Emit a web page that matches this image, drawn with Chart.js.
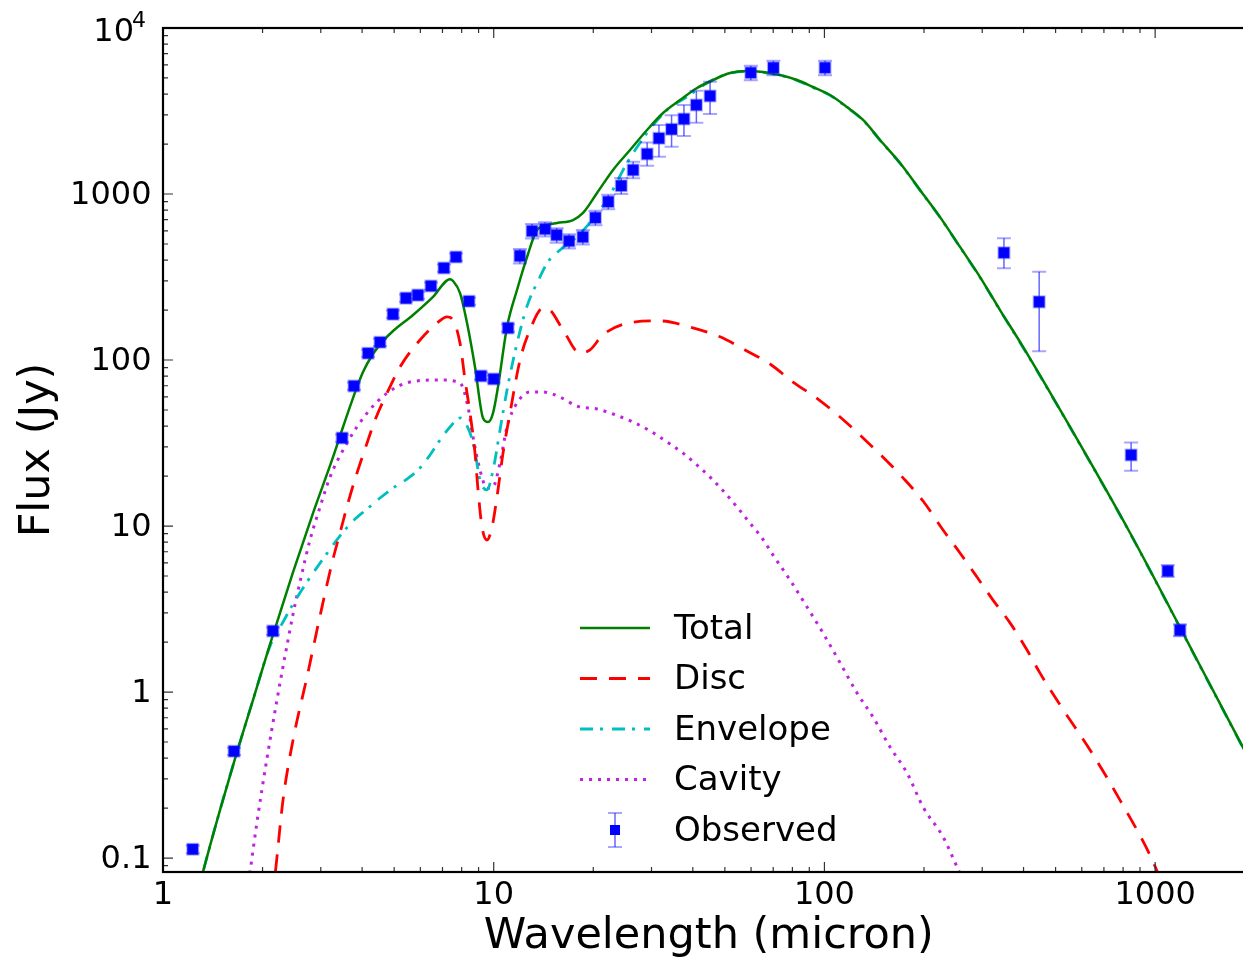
<!DOCTYPE html>
<html>
<head>
<meta charset="utf-8">
<script src="https://cdn.jsdelivr.net/npm/chart.js@4.4.1/dist/chart.umd.min.js"></script>
<style>
html,body{margin:0;padding:0;background:#fff;overflow:hidden;width:1243px;height:958px;}
canvas{display:block;width:1243px;height:958px;}
</style>
</head>
<body>
<canvas id="c" width="1243" height="958"></canvas>
<script>
// ---------------- data ----------------
const xTickLabels = [1, 10, 100, 1000];
const yTickLabels = [0.1, 1, 10, 100, 1000, 10000];

const obsWave = [1.23, 1.64, 2.15, 3.48, 3.78, 4.17, 4.53, 4.96, 5.43, 5.90, 6.46, 7.07, 7.69, 8.42, 9.15, 10.0, 11.05, 12.0, 13.06, 14.3, 15.5, 16.9, 18.6, 20.3, 22.2, 24.3, 26.4, 29.1, 31.6, 34.5, 37.6, 41.0, 45.1, 59.9, 70.1, 100.4, 349, 446, 846, 1092, 1189];
const obsFlux = [0.113, 0.44, 2.33, 33.9, 69.7, 110, 128, 189, 236, 246, 279, 358, 417, 226, 80.2, 76.9, 156, 424, 599, 615, 566, 521, 551, 720, 899, 1122, 1395, 1742, 2165, 2453, 2830, 3435, 3894, 5380, 5770, 5770, 443, 224, 26.8, 5.36, 2.36];
const obsLow  = [0.107, 0.418, 2.21, 32.2, 66.2, 104.5, 121.6, 179.6, 224, 234, 265, 340, 396, 215, 76.2, 73.1, 148, 382, 539, 554, 509, 469, 496, 648, 809, 1000, 1245, 1479, 1679, 1927, 2235, 2689, 3034, 4840, 5190, 5190, 357, 113, 21.5, 4.95, 2.17];
const obsHigh = [0.119, 0.462, 2.45, 35.6, 73.2, 115.5, 134.4, 198.5, 248, 258, 293, 376, 438, 237, 84.2, 80.7, 164, 466, 659, 677, 623, 573, 606, 792, 989, 1250, 1567, 2046, 2606, 2978, 3433, 4190, 4749, 5920, 6350, 6350, 541, 340, 31.9, 5.80, 2.55];

const totalWave = [1.258, 1.321, 1.487, 1.674, 1.871, 2.107, 2.473, 2.842, 3.266, 3.502, 3.754, 4.025, 4.315, 4.627, 4.961, 5.702, 6.555, 7.378, 7.533, 7.910, 8.305, 8.779, 9.282, 9.612, 9.952, 10.30, 10.97, 11.76, 12.61, 13.52, 14.50, 15.54, 17.37, 18.62, 20.53, 22.95, 25.83, 29.08, 32.51, 36.59, 41.19, 46.05, 51.83, 58.33, 65.21, 73.39, 82.62, 92.36, 104.0, 117.0, 130.9, 147.3, 169.3, 194.6, 223.7, 257.0, 295.5, 339.6, 398.6, 553, 840, 1339, 2000];
const totalFlux = [0.0558, 0.0824, 0.1945, 0.4355, 0.895, 1.946, 5.28, 11.97, 26.0, 39.5, 59.0, 84.7, 108.7, 130, 149.5, 186.7, 240, 307, 299, 253, 167, 90.8, 44.7, 42.3, 47.9, 68.8, 158, 264, 417, 607, 650, 669, 697, 769, 1014, 1396, 1841, 2430, 3076, 3681, 4352, 4861, 5355, 5508, 5433, 5212, 4861, 4412, 3948, 3342, 2792, 2115, 1537, 1057, 726, 480, 316, 200, 120, 39.5, 9.08, 1.56, 0.34];

const discWave = [2.143, 2.211, 2.306, 2.473, 2.725, 2.984, 3.243, 3.429, 3.625, 3.861, 4.140, 4.376, 4.758, 5.208, 5.985, 6.741, 7.225, 7.533, 7.910, 8.190, 8.480, 8.779, 8.965, 9.218, 9.544, 9.883, 10.23, 10.67, 11.20, 12.01, 12.87, 14.10, 14.80, 16.20, 18.24, 19.55, 21.41, 26.38, 31.84, 39.23, 48.34, 57.54, 68.46, 80.35, 95.6, 111.5, 129.9, 150.4, 172.9, 198.7, 228.4, 257.0, 289.3, 323.4, 364.1, 409.9, 448.7, 515.8, 635.5, 783.0, 965, 1071];
const discFlux = [0.0558, 0.1014, 0.2234, 0.514, 1.231, 2.87, 5.98, 9.08, 13.76, 20.9, 31.6, 43.5, 63.2, 90.8, 132, 167, 182, 174, 126, 75.8, 47.9, 27.5, 16.5, 9.86, 8.24, 9.86, 14.96, 27.5, 47.9, 100, 152, 206, 200, 152, 110, 115, 142, 169, 172, 158, 138, 115, 94.6, 73.7, 58.2, 45.4, 34.4, 26.0, 19.5, 14.15, 9.46, 6.88, 4.93, 3.58, 2.61, 1.79, 1.30, 0.836, 0.448, 0.2234, 0.104, 0.0641];

const envWave = [1.258, 1.321, 1.487, 1.674, 1.871, 2.107, 2.306, 2.473, 2.725, 2.984, 3.429, 3.754, 4.140, 4.531, 4.961, 5.468, 5.985, 6.418, 6.880, 7.378, 7.910, 8.480, 8.779, 9.091, 9.544, 9.952, 10.45, 10.97, 11.76, 12.61, 13.80, 14.50, 15.87, 17.37, 19.15, 20.53, 22.01, 25.30, 29.08, 33.42, 38.41, 44.16, 50.76, 58.33, 65.21, 73.39, 82.62, 92.36, 104.0, 117.0, 130.9, 147.3, 169.3, 194.6, 223.7, 257.0, 295.5, 339.6, 398.6, 553, 840, 1339, 2000];
const envFlux = [0.0558, 0.0824, 0.1945, 0.4355, 0.895, 1.89, 2.64, 3.39, 4.60, 5.98, 8.71, 10.72, 12.65, 14.75, 16.94, 19.19, 22.35, 26.8, 33.0, 39.5, 44.8, 36.3, 27.9, 18.9, 16.5, 21.7, 37.9, 65.9, 126, 211, 316, 384, 460, 528, 640, 769, 920, 1537, 2330, 3206, 3839, 4664, 5284, 5480, 5410, 5190, 4840, 4390, 3930, 3325, 2778, 2105, 1530, 1052, 722, 478, 314, 199, 119, 39.3, 9.03, 1.55, 0.338];

const cavWave = [1.782, 1.833, 1.924, 2.063, 2.211, 2.388, 2.473, 2.596, 2.783, 2.984, 3.199, 3.600, 4.140, 4.758, 5.583, 6.880, 7.910, 8.361, 8.658, 9.091, 9.544, 9.952, 10.45, 10.97, 11.76, 12.87, 14.10, 15.87, 17.86, 20.53, 22.95, 26.38, 29.70, 33.42, 37.36, 41.19, 45.72, 50.06, 54.80, 59.57, 64.76, 69.94, 78.70, 88.6, 99.0, 111.5, 125.5, 140.3, 157.9, 177.8, 198.7, 228.4, 251.8, 266.2];
const cavFlux = [0.0558, 0.0824, 0.165, 0.400, 0.895, 2.06, 2.95, 4.60, 8.24, 13.0, 19.7, 31.6, 47.9, 63.2, 73.7, 75.8, 72.7, 52.1, 34.4, 21.7, 16.9, 17.2, 24.0, 39.5, 55.1, 64.1, 64.1, 59.8, 52.8, 50.7, 47.3, 42.3, 37.4, 32.1, 27.5, 23.3, 19.19, 15.8, 12.8, 10.4, 8.47, 6.68, 4.73, 3.25, 2.27, 1.50, 0.987, 0.706, 0.466, 0.325, 0.203, 0.134, 0.0883, 0.0687];

// ---------------- chart ----------------
const FONT = "'DejaVu Sans', 'Liberation Sans', sans-serif";
const X_MIN = 1, X_MAX = 2000, Y_MIN = 0.0824, Y_MAX = 10000;
const PLOT_RIGHT = 1254.7; // the axes box runs past the right edge of the picture

function pts(xs, ys) { return xs.map((x, i) => ({ x: x, y: ys[i] })); }
function allTicks(decades, lo, hi) {
  const out = [];
  decades.forEach(d => {
    out.push(d);
    for (let m = 2; m <= 9; m++) out.push(d * m);
  });
  return out.filter(v => v >= lo - 1e-12 && v <= hi + 1e-9);
}
const xTicksAll = allTicks(xTickLabels, X_MIN, X_MAX);
const yTicksAll = allTicks([0.01].concat(yTickLabels), Y_MIN, Y_MAX);

const styles = {
  Total:    { color: '#008000', width: 2.5, dash: [] },
  Disc:     { color: '#ff0000', width: 2.8, dash: [17, 12] },
  Envelope: { color: '#00bfbf', width: 2.8, dash: [13, 7, 3, 9] },
  Cavity:   { color: '#c020e0', width: 3,   dash: [3, 6] }
};

function lineDs(label, xs, ys, order) {
  const s = styles[label];
  return {
    label: label, data: pts(xs, ys), order: order,
    borderColor: s.color, backgroundColor: s.color, borderWidth: s.width,
    borderDash: s.dash, pointRadius: 0, pointHoverRadius: 0, fill: false,
    cubicInterpolationMode: 'monotone', borderCapStyle: 'butt'
  };
}

const decor = {
  id: 'decor',
  afterLayout(chart) {
    const xs = chart.scales.x;
    xs.right = PLOT_RIGHT;
    xs.width = PLOT_RIGHT - xs.left;
    xs.configure();
    chart.chartArea.right = PLOT_RIGHT;
    chart.chartArea.width = PLOT_RIGHT - chart.chartArea.left;
  },
  beforeDatasetDraw(chart, args) {
    if (args.index !== 0) return;
    const ctx = chart.ctx, xs = chart.scales.x, ys = chart.scales.y;
    ctx.save();
    obsWave.forEach((w, i) => {
      const px = xs.getPixelForValue(w);
      const yl = ys.getPixelForValue(obsLow[i]);
      const yh = ys.getPixelForValue(obsHigh[i]);
      ctx.strokeStyle = 'rgba(0,0,255,0.6)'; ctx.lineWidth = 1.5;
      ctx.beginPath(); ctx.moveTo(px, yl); ctx.lineTo(px, yh); ctx.stroke();
      ctx.strokeStyle = 'rgba(0,0,255,0.35)'; ctx.lineWidth = 2;
      ctx.beginPath();
      ctx.moveTo(px - 7, yl); ctx.lineTo(px + 7, yl);
      ctx.moveTo(px - 7, yh); ctx.lineTo(px + 7, yh);
      ctx.stroke();
    });
    ctx.restore();
  },
  afterDatasetsDraw(chart) {
    const ctx = chart.ctx, a = chart.chartArea, xs = chart.scales.x, ys = chart.scales.y;
    ctx.save();
    ctx.strokeStyle = '#333'; ctx.lineWidth = 1.2;
    ctx.beginPath();
    xTicksAll.forEach(v => {
      const p = xs.getPixelForValue(v);
      if (p < a.left - 0.5 || p > a.right + 0.5) return;
      const L = xTickLabels.includes(v) ? 10 : 5;
      ctx.moveTo(p, a.bottom); ctx.lineTo(p, a.bottom - L);
      ctx.moveTo(p, a.top); ctx.lineTo(p, a.top + L);
    });
    yTicksAll.forEach(v => {
      const p = ys.getPixelForValue(v);
      if (p < a.top - 0.5 || p > a.bottom + 0.5) return;
      const L = yTickLabels.includes(v) ? 10 : 5;
      ctx.moveTo(a.left, p); ctx.lineTo(a.left + L, p);
      ctx.moveTo(a.right, p); ctx.lineTo(a.right - L, p);
    });
    ctx.stroke();
    ctx.strokeStyle = '#000'; ctx.lineWidth = 2.2;
    ctx.strokeRect(a.left, a.top, a.right - a.left, a.bottom - a.top);
    ctx.restore();
  },
  afterDraw(chart) {
    const ctx = chart.ctx, ys = chart.scales.y;
    ctx.save();
    // 10^4 label
    const p4 = ys.getPixelForValue(10000);
    ctx.fillStyle = '#000';
    ctx.textBaseline = 'middle';
    ctx.font = '32px ' + FONT;
    ctx.textAlign = 'right';
    ctx.fillText('10', 134, p4 + 5);
    ctx.font = '22px ' + FONT;
    ctx.textAlign = 'left';
    ctx.fillText('4', 132, p4 - 7);
    // legend
    const names = ['Total', 'Disc', 'Envelope', 'Cavity', 'Observed'];
    ctx.font = '34px ' + FONT;
    ctx.textBaseline = 'alphabetic';
    names.forEach((n, i) => {
      const yc = 628 + i * 50.5;
      if (styles[n]) {
        const s = styles[n];
        ctx.save();
        ctx.strokeStyle = s.color; ctx.lineWidth = s.width; ctx.setLineDash(s.dash);
        ctx.lineCap = 'butt';
        ctx.beginPath(); ctx.moveTo(580, yc); ctx.lineTo(650, yc); ctx.stroke();
        ctx.restore();
      } else {
        ctx.save();
        ctx.strokeStyle = 'rgba(0,0,255,0.6)'; ctx.lineWidth = 1.5;
        ctx.beginPath(); ctx.moveTo(615, yc - 17); ctx.lineTo(615, yc + 17); ctx.stroke();
        ctx.strokeStyle = 'rgba(0,0,255,0.35)'; ctx.lineWidth = 2;
        ctx.beginPath();
        ctx.moveTo(608, yc - 17); ctx.lineTo(622, yc - 17);
        ctx.moveTo(608, yc + 17); ctx.lineTo(622, yc + 17);
        ctx.stroke();
        ctx.fillStyle = '#0000ff';
        ctx.fillRect(610, yc - 5, 10, 10);
        ctx.restore();
      }
      ctx.fillStyle = '#000';
      ctx.textAlign = 'left';
      ctx.fillText(n, 674, yc + 10.5);
    });
    ctx.restore();
  }
};

new Chart(document.getElementById('c'), {
  type: 'line',
  data: {
    datasets: [
      {
        label: 'Observed', data: pts(obsWave, obsFlux), order: 0, showLine: false,
        pointStyle: 'rect', pointRadius: 7.8, pointHoverRadius: 7.8,
        pointBackgroundColor: '#0000ff', pointBorderColor: 'rgba(40,40,255,0.35)', pointBorderWidth: 2
      },
      lineDs('Total', totalWave, totalFlux, 1),
      lineDs('Disc', discWave, discFlux, 2),
      lineDs('Envelope', envWave, envFlux, 3),
      lineDs('Cavity', cavWave, cavFlux, 4)
    ]
  },
  options: {
    responsive: false, animation: false, devicePixelRatio: 1,
    layout: { autoPadding: false, padding: { top: 28, right: 0, left: 0, bottom: 0 } },
    plugins: { legend: { display: false }, tooltip: { enabled: false }, title: { display: false } },
    events: [],
    scales: {
      x: {
        type: 'logarithmic', min: X_MIN, max: X_MAX,
        afterBuildTicks: s => { s.ticks = xTicksAll.map(v => ({ value: v })); },
        afterFit: s => { s.height = 86; s.paddingLeft = 0; s.paddingRight = 0; },
        grid: { display: false, drawTicks: false },
        border: { display: false },
        ticks: {
          autoSkip: false, maxRotation: 0, minRotation: 0, padding: 7.2, color: '#000',
          font: { family: FONT, size: 32, lineHeight: 1 },
          callback: v => xTickLabels.includes(v) ? String(v) : ''
        },
        title: {
          display: true, text: 'Wavelength (micron)', color: '#000',
          font: { family: FONT, size: 43, lineHeight: 1 }, padding: { top: 4, bottom: 0 }
        }
      },
      y: {
        type: 'logarithmic', min: Y_MIN, max: Y_MAX,
        afterBuildTicks: s => { s.ticks = yTicksAll.map(v => ({ value: v })); },
        afterFit: s => { s.width = 163; s.paddingTop = 0; s.paddingBottom = 0; },
        grid: { display: false, drawTicks: false },
        border: { display: false },
        ticks: {
          autoSkip: false, padding: 11.5, color: '#000', labelOffset: 2,
          font: { family: FONT, size: 32, lineHeight: 1 },
          callback: v => (yTickLabels.includes(v) && v !== 10000) ? String(v) : ''
        },
        title: {
          display: true, text: 'Flux (Jy)', color: '#000',
          font: { family: FONT, size: 43, lineHeight: 1 }, padding: { top: 16, bottom: 0 }
        }
      }
    }
  },
  plugins: [decor]
});
</script>
</body>
</html>
